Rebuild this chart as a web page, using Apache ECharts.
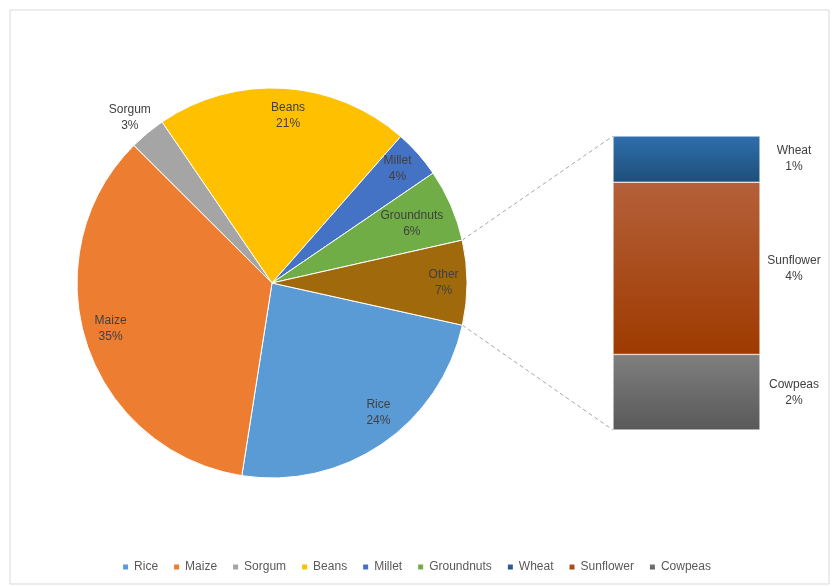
<!DOCTYPE html>
<html><head><meta charset="utf-8">
<script src="https://cdn.jsdelivr.net/npm/echarts@6/dist/echarts.min.js"></script>
<style>html,body{margin:0;background:#fff}#c{width:832px;height:586px}</style>
</head><body><div id="c"></div>
<script>
const pieNames = ['Rice','Maize','Sorgum','Beans','Millet','Groundnuts','Other'];
const pieValues = [24,35,3,21,4,6,7];
const pieColors = ['#5b9bd5','#ed7d31','#a5a5a5','#ffc000','#4472c4','#70ad47','#a0690c'];
const barNames = ['Cowpeas','Sunflower','Wheat'];
const barValues = [1.8,4.1,1.1];
const barColors = [['#7f7f7f','#595959'],['#b5603a','#9e3a00'],['#2e6fad','#1f4e79']];
const legendNames = ['Rice','Maize','Sorgum','Beans','Millet','Groundnuts','Wheat','Sunflower','Cowpeas'];

const cx = 272, cy = 283, R = 195, startAngle = -12.5;
const chart = echarts.init(document.getElementById('c'));
const txt = {color:'#404040', fontSize:12, fontFamily:'Liberation Sans, Arial', lineHeight:16};
const labelFactor = [0.86,0.86,1.12,0.86,0.87,0.78,0.88];

const series = [{
  type:'pie', center:[cx,cy], radius:R, startAngle:startAngle, clockwise:true,
  itemStyle:{borderColor:'#fff',borderWidth:1},
  label:Object.assign({position:'inside', formatter:'{b}\n{d}%'}, txt),
  labelLine:{show:false},
  labelLayout: function(p){
    const x = p.rect.x + p.rect.width/2, y = p.rect.y + p.rect.height/2;
    let a = Math.atan2(y-cy, x-cx);
    if (p.dataIndex === 5) a += 0.12;
    const f = labelFactor[p.dataIndex];
    return {x: cx + Math.cos(a)*R*f, y: cy + Math.sin(a)*R*f, align:'center', verticalAlign:'middle'};
  },
  data: pieNames.map((n,i)=>({name:n, value:pieValues[i], itemStyle:{color:pieColors[i]}}))
}];
barNames.forEach((n,i)=>{
  series.push({type:'bar', name:n, stack:'s', barWidth:'100%', color:barColors[i][1],
    data:[barValues[i]],
    itemStyle:{color:{type:'linear',x:0,y:0,x2:0,y2:1,colorStops:[{offset:0,color:barColors[i][0]},{offset:1,color:barColors[i][1]}]}, borderColor:'#fff', borderWidth:0.5},
    label:Object.assign({show:true, position:'right', distance:34, align:'center', formatter:p=>p.seriesName+'\n'+Math.round(p.value)+'%'}, txt),
    emphasis:{disabled:true}
  });
});

chart.setOption({
  animation:false,
  legend:{bottom:8, left:'center', data:legendNames, icon:'rect', itemWidth:7, itemHeight:7, itemGap:14,
    textStyle:{color:'#595959', fontSize:12, fontFamily:'Liberation Sans, Arial'}},
  grid:{left:613, right:72, top:136, bottom:156},
  xAxis:{type:'category', data:['Other'], show:false},
  yAxis:{type:'value', min:0, max:barValues.reduce((a,b)=>a+b,0), show:false},
  series: series
});

const total = pieValues.reduce((a,b)=>a+b,0);
const a1 = (startAngle) * Math.PI/180, a2 = (startAngle + 360*pieValues[6]/total) * Math.PI/180;
const pBot = [cx + Math.cos(a1)*R, cy - Math.sin(a1)*R];
const pTop = [cx + Math.cos(a2)*R, cy - Math.sin(a2)*R];
const sum = barValues.reduce((a,b)=>a+b,0);
const bTop = chart.convertToPixel({gridIndex:0},[0,sum]);
const bBot = chart.convertToPixel({gridIndex:0},[0,0]);
const bx = 613;
chart.setOption({graphic:[
  {type:'rect', shape:{x:10,y:10,width:819,height:574}, style:{fill:'none',stroke:'#d9d9d9',lineWidth:1}, silent:true},
  {type:'line', shape:{x1:pTop[0],y1:pTop[1],x2:bx,y2:bTop[1]}, style:{stroke:'#a6a6a6',lineDash:[4,3],lineWidth:1}},
  {type:'line', shape:{x1:pBot[0],y1:pBot[1],x2:bx,y2:bBot[1]}, style:{stroke:'#a6a6a6',lineDash:[4,3],lineWidth:1}}
]});
</script></body></html>
